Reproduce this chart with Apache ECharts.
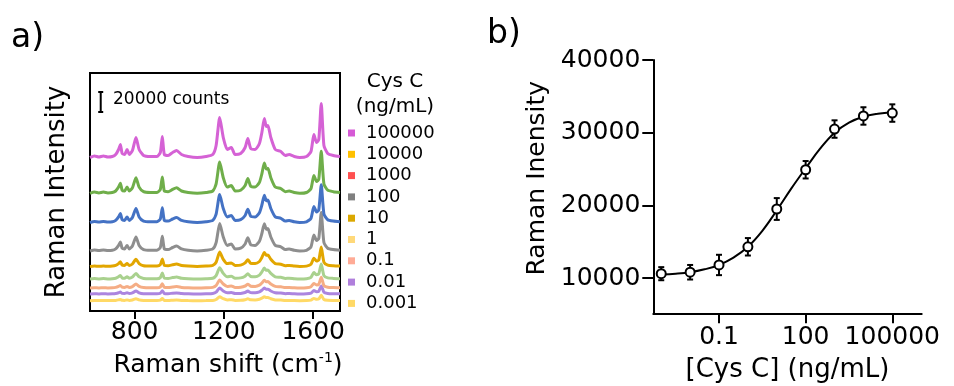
<!DOCTYPE html>
<html>
<head>
<meta charset="utf-8">
<script src="https://cdn.jsdelivr.net/npm/echarts@6/dist/echarts.min.js"></script>
<style>html,body{margin:0;padding:0;background:#fff}#c{width:954px;height:386px}</style>
</head>
<body>
<div id="c"></div>
<script>
// ---------- Panel a: Raman spectra (values in kilo-counts) ----------
const wavenumbers = [600,620,640,660,680,700,715,728,736,744,755,766,776,790,806,820,840,870,900,915,924,933,950,970,988,1010,1040,1080,1120,1150,1165,1181,1197,1215,1233,1250,1275,1295,1307,1320,1340,1359,1370,1381,1390,1397,1410,1430,1455,1475,1492,1515,1540,1570,1590,1603,1615,1625,1636,1648,1665,1690,1720];
const spec100000 = [153.5,155,154,155,154,154.5,156.5,161.5,166.5,157.5,156.5,161.5,156.5,160.5,173.5,161.5,155.5,154.5,154.5,158.5,174.5,156.5,155.5,158.5,160.5,156.5,154.5,153.5,154.5,156.5,165.5,193.5,173.5,161.5,163.5,156.5,157.5,163.5,172.5,162.5,161.5,167.5,178.5,192.5,184.5,185.5,173.5,161.5,159.5,155.5,156.5,154.5,153.5,154.5,159.5,176.5,168.5,171.5,207.5,165.5,157.5,155.5,154.5];
const spec10000 = [117.7,118.9,118.1,118.9,118.1,118.5,120.0,123.9,127.8,120.8,120.0,123.9,120.0,123.2,133.3,123.9,119.3,118.5,118.5,121.6,134.1,120.0,119.3,121.6,123.2,120.0,118.5,117.7,118.5,120.0,127.1,148.9,133.3,123.9,125.5,120.0,120.8,125.5,132.5,124.7,123.9,128.6,137.2,148.1,141.9,142.7,133.3,123.9,122.4,119.3,120.0,118.5,117.7,118.5,122.4,135.6,129.4,131.7,159.8,127.1,120.8,119.3,118.5];
const spec1000 = [88.5,89.6,88.9,89.6,88.9,89.2,90.6,94.1,97.6,91.3,90.6,94.1,90.6,93.4,102.5,94.1,89.9,89.2,89.2,92.0,103.2,90.6,89.9,92.0,93.4,90.6,89.2,88.5,89.2,90.6,96.9,116.5,102.5,94.1,95.5,90.6,91.3,95.5,101.8,94.8,94.1,98.3,106.0,115.8,110.2,110.9,102.5,94.1,92.7,89.9,90.6,89.2,88.5,89.2,92.7,104.6,99.0,101.1,126.3,96.9,91.3,89.9,89.2];
const spec100 = [60.0,61.1,60.4,61.1,60.4,60.7,62.1,65.6,69.1,62.8,62.1,65.6,62.1,64.9,74.0,65.6,61.4,60.7,60.7,63.5,74.7,62.1,61.4,63.5,64.9,62.1,60.7,60.0,60.7,62.1,68.4,87.5,74.0,65.6,67.0,62.1,62.8,67.0,73.3,66.3,65.6,69.8,77.5,87.3,81.7,82.4,74.0,65.6,64.2,61.4,62.1,60.7,60.0,60.7,64.2,76.1,70.5,72.6,98.5,68.4,62.8,61.4,60.7];
const spec10 = [44.5,45.0,44.7,45.0,44.7,44.9,45.6,47.4,49.2,45.9,45.6,47.4,45.6,47.0,51.7,47.4,45.2,44.9,44.9,46.3,52.1,45.6,45.2,46.3,47.0,45.6,44.9,44.5,44.9,45.6,48.8,58.9,51.7,47.4,48.1,45.6,45.9,48.1,51.3,47.7,47.4,49.5,53.5,58.5,55.7,56.0,51.7,47.4,46.7,45.2,45.6,44.9,44.5,44.9,46.7,52.8,49.9,51.0,63.9,48.8,45.9,45.2,44.9];
const spec1 = [32.0,32.4,32.1,32.4,32.1,32.3,32.8,34.2,35.6,33.1,32.8,34.2,32.8,34.0,37.6,34.2,32.6,32.3,32.3,33.4,37.9,32.8,32.6,33.4,34.0,32.8,32.3,32.0,32.3,32.8,35.4,43.2,37.6,34.2,34.8,32.8,33.1,34.8,37.3,34.5,34.2,35.9,39.0,42.9,40.7,41.0,37.6,34.2,33.7,32.6,32.8,32.3,32.0,32.3,33.7,38.4,36.2,37.0,47.1,35.4,33.1,32.6,32.3];
const spec0_1 = [23.0,23.3,23.1,23.3,23.1,23.2,23.6,24.6,25.6,23.8,23.6,24.6,23.6,24.4,27.0,24.6,23.4,23.2,23.2,24.0,27.2,23.6,23.4,24.0,24.4,23.6,23.2,23.0,23.2,23.6,25.4,31.0,27.0,24.6,25.0,23.6,23.8,25.0,26.8,24.8,24.6,25.8,28.0,30.8,29.2,29.4,27.0,24.6,24.2,23.4,23.6,23.2,23.0,23.2,24.2,27.6,26.0,26.6,33.8,25.4,23.8,23.4,23.2];
const spec0_01 = [17.0,17.2,17.1,17.2,17.1,17.2,17.5,18.2,19.0,17.6,17.5,18.2,17.5,18.1,20.0,18.2,17.3,17.2,17.2,17.8,20.2,17.5,17.3,17.8,18.1,17.5,17.2,17.0,17.2,17.5,18.8,23.0,20.0,18.2,18.5,17.5,17.6,18.5,19.9,18.4,18.2,19.1,20.8,22.9,21.7,21.8,20.0,18.2,17.9,17.3,17.5,17.2,17.0,17.2,17.9,20.5,19.3,19.7,25.1,18.8,17.6,17.3,17.2];
const spec0_001 = [10.3,10.5,10.4,10.5,10.4,10.4,10.6,11.1,11.6,10.7,10.6,11.1,10.6,11.0,12.3,11.1,10.5,10.4,10.4,10.8,12.4,10.6,10.5,10.8,11.0,10.6,10.4,10.3,10.4,10.6,11.5,14.3,12.3,11.1,11.3,10.6,10.7,11.3,12.2,11.2,11.1,11.7,12.8,14.2,13.4,13.5,12.3,11.1,10.9,10.5,10.6,10.4,10.3,10.4,10.9,12.6,11.8,12.1,15.7,11.5,10.7,10.5,10.4];
const legendLabels = ['100000','10000','1000','100','10','1','0.1','0.01','0.001'];
const spectra = [spec100000, spec10000, spec1000, spec100, spec10, spec1, spec0_1, spec0_01, spec0_001];
const lineColors = ['#d562d5','#6fae4a','#4472c4','#8e8e8e','#e2a600','#a9d18e','#f5ad85','#ac85df','#ffd966'];
const legendColors = ['#d65ad6','#ffc000','#ff5050','#808080','#dba800','#ffd97a','#ffab96','#b07fdc','#ffd966'];
const xTicksA = [800, 1200, 1600];
const scaleBar = [[648, 199, 219]]; // wavenumber, low, high (20 kilo-counts)

// ---------- Panel b: calibration ----------
const concB = [0.001, 0.01, 0.1, 1, 10, 100, 1000, 10000, 100000];
const meanB = [10600, 10800, 11800, 14300, 19500, 24900, 30500, 32300, 32700];
const errB = [900, 1000, 1400, 1200, 1500, 1200, 1200, 1200, 1200];
const fitLogX = [-3,-2.5,-2,-1.5,-1,-0.5,0,0.5,1,1.5,2,2.5,3,3.5,4,4.5,5];
const fitY = [10500,10600,10800,11200,11800,12800,14300,16500,19300,22300,25100,27800,30000,31400,32200,32600,32800];
const xTicksB = [0.1, 100, 100000];
const yTicksB = [10000, 20000, 30000, 40000];

const FONT = 'DejaVu Sans';
const chart = echarts.init(document.getElementById('c'), null, {renderer: 'canvas'});

const seriesA = spectra.map((arr, i) => ({
  name: legendLabels[i], type: 'line', xAxisIndex: 0, yAxisIndex: 0,
  data: wavenumbers.map((w, j) => [w, arr[j]]),
  showSymbol: false, symbol: 'none', smooth: 0.2,
  lineStyle: {color: lineColors[i], width: 3},
  itemStyle: {color: lineColors[i]},
  z: 10 - i, silent: true, animation: false
}));

const plain = v => String(v);

const option = {
  animation: false,
  textStyle: {fontFamily: FONT, color: '#000'},
  grid: [
    {left: 90, top: 73, width: 250, height: 238, show: true, borderColor: '#000', borderWidth: 2, backgroundColor: 'transparent', containLabel: false, outerBoundsMode: 'none'},
    {left: 653.3, top: 60, width: 268.4, height: 253.3, containLabel: false, outerBoundsMode: 'none'}
  ],
  xAxis: [
    {gridIndex: 0, type: 'value', min: 600, max: 1720,
     axisLine: {show: false, onZero: false}, splitLine: {show: false},
     axisTick: {show: true, length: 8, customValues: xTicksA, lineStyle: {color: '#000', width: 2}},
     axisLabel: {customValues: xTicksA, margin: 9, fontFamily: FONT, fontSize: 25, color: '#000', formatter: plain},
     name: '{a|Raman shift (cm}{s|-1}{a|)}', nameLocation: 'middle', nameGap: 40,
     nameTextStyle: {padding: [0, 0, 0, 26], rich: {a: {fontFamily: FONT, fontSize: 25, color: '#000', lineHeight: 28}, s: {fontFamily: FONT, fontSize: 14, color: '#000', verticalAlign: 'top', lineHeight: 28}}}
    },
    {gridIndex: 1, type: 'value', min: -3.275, max: 6.018,
     axisLine: {show: true, onZero: false, lineStyle: {color: '#000', width: 2}}, splitLine: {show: false},
     axisTick: {show: true, length: 10, customValues: xTicksB.map(v => Math.log10(v)), lineStyle: {color: '#000', width: 2}},
     axisLabel: {customValues: xTicksB.map(v => Math.log10(v)), margin: 12, fontFamily: FONT, fontSize: 25, color: '#000',
       formatter: v => { const r = Math.pow(10, v); return String(Number(r.toPrecision(6))); }},
     name: '[Cys C] (ng/mL)', nameLocation: 'middle', nameGap: 44,
     nameTextStyle: {fontFamily: FONT, fontSize: 26, color: '#000'}
    }
  ],
  yAxis: [
    {gridIndex: 0, type: 'value', min: 0, max: 238,
     axisLine: {show: false, onZero: false}, axisTick: {show: false}, axisLabel: {show: false}, splitLine: {show: false},
     name: 'Raman Intensity', nameLocation: 'middle', nameGap: 20, nameRotate: 90,
     nameTextStyle: {fontFamily: FONT, fontSize: 26, color: '#000'}
    },
    {gridIndex: 1, type: 'value', min: 5150, max: 40000,
     axisLine: {show: true, onZero: false, lineStyle: {color: '#000', width: 2}}, splitLine: {show: false},
     axisTick: {show: true, length: 11, customValues: yTicksB, lineStyle: {color: '#000', width: 2}},
     axisLabel: {customValues: yTicksB, margin: 13, fontFamily: FONT, fontSize: 25, color: '#000', formatter: plain},
     name: 'Raman Inensity', nameLocation: 'middle', nameGap: 103, nameRotate: 90,
     nameTextStyle: {fontFamily: FONT, fontSize: 25, color: '#000', padding: [0, 0, 0, 17]}
    }
  ],
  legend: {
    orient: 'vertical', left: 348, top: 124, padding: 0, itemGap: 3.3,
    itemWidth: 7, itemHeight: 7, icon: 'rect', selectedMode: false,
    textStyle: {fontFamily: FONT, fontSize: 18, color: '#000', padding: [0, 0, 0, 6]},
    data: legendLabels.map((n, i) => ({name: n, icon: 'rect', itemStyle: {color: legendColors[i]}}))
  },
  graphic: [
    {type: 'text', left: 11, top: 22, style: {text: 'a)', fontFamily: FONT, fontSize: 33, fill: '#000'}},
    {type: 'text', left: 487, top: 18, style: {text: 'b)', fontFamily: FONT, fontSize: 33, fill: '#000'}},
    {type: 'text', left: 113, top: 91, style: {text: '20000 counts', fontFamily: FONT, fontSize: 17, fill: '#000'}},
    {type: 'text', x: 395, y: 82, style: {text: 'Cys C', fontFamily: FONT, fontSize: 20, fill: '#000', align: 'center', verticalAlign: 'middle'}},
    {type: 'text', x: 395, y: 107, style: {text: '(ng/mL)', fontFamily: FONT, fontSize: 20, fill: '#000', align: 'center', verticalAlign: 'middle'}}
  ],
  series: seriesA.concat([
    {type: 'custom', xAxisIndex: 0, yAxisIndex: 0, data: scaleBar, silent: true, z: 20,
     renderItem: (params, api) => {
       const top = api.coord([api.value(0), api.value(2)]);
       const bot = api.coord([api.value(0), api.value(1)]);
       const w = 2.5, st = {stroke: '#000', lineWidth: 2};
       return {type: 'group', children: [
         {type: 'line', shape: {x1: top[0], y1: top[1], x2: bot[0], y2: bot[1]}, style: st},
         {type: 'line', shape: {x1: top[0] - w, y1: top[1], x2: top[0] + w, y2: top[1]}, style: st},
         {type: 'line', shape: {x1: bot[0] - w, y1: bot[1], x2: bot[0] + w, y2: bot[1]}, style: st}
       ]};
     }},
    {type: 'line', xAxisIndex: 1, yAxisIndex: 1, data: fitLogX.map((x, i) => [x, fitY[i]]),
     symbol: 'none', smooth: 0.4, lineStyle: {color: '#000', width: 2}, z: 5, silent: true},
    {type: 'custom', xAxisIndex: 1, yAxisIndex: 1, silent: true, z: 6,
     data: concB.map((c, i) => [Math.log10(c), meanB[i] - errB[i], meanB[i] + errB[i]]),
     renderItem: (params, api) => {
       const hi = api.coord([api.value(0), api.value(2)]);
       const lo = api.coord([api.value(0), api.value(1)]);
       const w = 3, st = {stroke: '#000', lineWidth: 2};
       return {type: 'group', children: [
         {type: 'line', shape: {x1: hi[0], y1: hi[1], x2: lo[0], y2: lo[1]}, style: st},
         {type: 'line', shape: {x1: hi[0] - w, y1: hi[1], x2: hi[0] + w, y2: hi[1]}, style: st},
         {type: 'line', shape: {x1: lo[0] - w, y1: lo[1], x2: lo[0] + w, y2: lo[1]}, style: st}
       ]};
     }},
    {type: 'scatter', xAxisIndex: 1, yAxisIndex: 1, data: concB.map((c, i) => [Math.log10(c), meanB[i]]),
     symbol: 'circle', symbolSize: 9, itemStyle: {color: '#fff', borderColor: '#000', borderWidth: 2, opacity: 1}, z: 8, silent: true}
  ])
};
chart.setOption(option);
</script>
</body>
</html>
